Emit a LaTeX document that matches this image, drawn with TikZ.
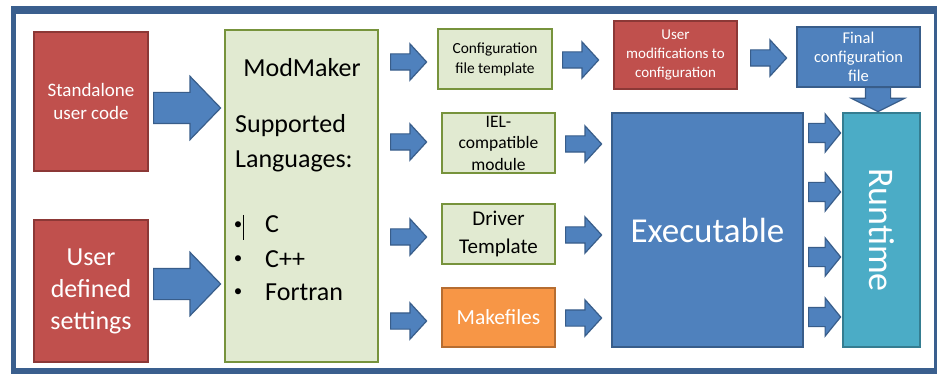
\documentclass[tikz,border=0pt]{standalone}
\usepackage{fontspec}
\setmainfont{Carlito}
\usepackage{tikz}
\usetikzlibrary{shapes.arrows}

\definecolor{frameblue}{HTML}{3A5F8E}
\definecolor{boxred}{HTML}{C0504D}
\definecolor{boxredline}{HTML}{8C3836}
\definecolor{boxgreen}{HTML}{E1EAD1}
\definecolor{boxgreenline}{HTML}{77933C}
\definecolor{boxblue}{HTML}{4F81BD}
\definecolor{boxblueline}{HTML}{385D8A}
\definecolor{boxorange}{HTML}{F79646}
\definecolor{boxorangeline}{HTML}{B66D31}
\definecolor{boxteal}{HTML}{4BACC6}
\definecolor{boxtealline}{HTML}{357D91}

\begin{document}
\begin{tikzpicture}[x=1pt,y=-1pt,
  box/.style={draw, line width=1.8pt, inner sep=0pt, align=center},
  redbox/.style={box, fill=boxred, draw=boxredline, text=white},
  greenbox/.style={box, fill=boxgreen, draw=boxgreenline, text=black},
  bluebox/.style={box, fill=boxblue, draw=boxblueline, text=white},
  orangebox/.style={box, fill=boxorange, draw=boxorangeline, text=white},
  tealbox/.style={box, fill=boxteal, draw=boxtealline, text=white},
  txt/.style={inner sep=0pt, align=center},
  arr/.style={single arrow, fill=boxblue, draw=boxblueline, line width=1.2pt,
    inner xsep=0pt, anchor=tail, single arrow head indent=0pt},
  bigarr/.style={arr, minimum height=67, inner ysep=15pt,
    single arrow head extend=16, single arrow tip angle=92},
  smallarr/.style={arr, minimum height=36, inner ysep=7.5pt,
    single arrow head extend=10, single arrow tip angle=95},
  runarr/.style={arr, minimum height=32, inner ysep=9pt,
    single arrow head extend=9.5, single arrow tip angle=102}]
  \useasboundingbox (0,0) rectangle (937,374);
  % frame
  \fill[frameblue] (11,6) rectangle (937,374);
  \fill[white] (16,14) rectangle (934,368);

  % inputs
  \node[redbox, minimum width=114, minimum height=139, font=\fontsize{19}{23}\selectfont] (suc) at (91,101.5) {Standalone\\user code};
  \node[redbox, minimum width=114, minimum height=142, font=\fontsize{26}{32}\selectfont] (uds) at (91,291) {User\\defined\\settings};

  % ModMaker
  \node[greenbox, minimum width=153, minimum height=332] (mm) at (301.5,196) {};
  \node[txt, anchor=base, font=\fontsize{26}{32}\selectfont] (mmtitle) at (302,77) {ModMaker};
  \node[txt, anchor=base west, font=\fontsize{26}{32}\selectfont] (mmsup) at (235,133) {Supported};
  \node[txt, anchor=base west, font=\fontsize{26}{32}\selectfont] (mmlang) at (235,168) {Languages:};
  \node[txt, font=\fontsize{17}{20}\selectfont] (bulc) at (238,226) {\textbullet};
  \node[txt, font=\fontsize{17}{20}\selectfont] (bulcpp) at (238,260) {\textbullet};
  \node[txt, font=\fontsize{17}{20}\selectfont] (bulf) at (238,293) {\textbullet};
  \node[txt, anchor=base west, font=\fontsize{26}{32}\selectfont] (langc) at (265,233) {C};
  \node[txt, anchor=base west, font=\fontsize{26}{32}\selectfont] (langcpp) at (265,267) {C++};
  \node[txt, anchor=base west, font=\fontsize{26}{32}\selectfont] (langf) at (265,300) {Fortran};
  \draw[line width=0.6pt] (243,215) -- (243,240);

  % generated files
  \node[greenbox, minimum width=114, minimum height=60, font=\fontsize{15.4}{20}\selectfont] (cft) at (495,59) {Configuration\\file template};
  \node[greenbox, minimum width=113, minimum height=60] (iel) at (498.5,143) {};
  \node[txt, font=\fontsize{17.5}{21.5}\selectfont] (ieltext) at (iel) {IEL-\\compatible\\module};
  \node[greenbox, minimum width=113, minimum height=60, font=\fontsize{21}{28}\selectfont] (drv) at (498.5,234) {Driver\\Template};
  \node[orangebox, minimum width=113, minimum height=59, font=\fontsize{21.5}{26}\selectfont] (mkf) at (498.5,317.5) {Makefiles};

  % configuration chain
  \node[redbox, minimum width=123, minimum height=68, font=\fontsize{15}{19}\selectfont] (umod) at (675.5,55) {User\\modifications to\\configuration};
  \node[bluebox, minimum width=123, minimum height=60, font=\fontsize{16.5}{19}\selectfont] (fcf) at (858.5,57) {Final\\configuration\\file};

  % build and run
  \node[bluebox, minimum width=191, minimum height=234, font=\fontsize{35}{42}\selectfont] (exe) at (707.5,230) {Executable};
  \node[tealbox, rotate=-90, minimum width=234, minimum height=77, font=\fontsize{36}{42}\selectfont] (run) at (881.5,230) {Runtime};

  % block arrows
  \node[bigarr] (a1) at (153,108) {};
  \node[bigarr] (a2) at (153,284) {};
  \node[smallarr] (a3) at (390,62) {};
  \node[smallarr] (a4) at (390,142) {};
  \node[smallarr] (a5) at (390,237) {};
  \node[smallarr] (a6) at (390,321) {};
  \node[smallarr] (a7) at (562,60) {};
  \node[smallarr] (a8) at (750,58) {};
  \node[smallarr] (a9) at (565,144) {};
  \node[smallarr] (a10) at (565,235) {};
  \node[smallarr] (a11) at (565,318) {};
  \node[runarr] (a12) at (808,133) {};
  \node[runarr] (a13) at (808,192) {};
  \node[runarr] (a14) at (808,257) {};
  \node[runarr] (a15) at (808,317) {};
  \node[arr, shape border rotate=270, minimum height=24, inner xsep=12pt, inner ysep=0pt,
    single arrow head extend=14, single arrow tip angle=127] (a16) at (878,87) {};
\end{tikzpicture}
\end{document}
